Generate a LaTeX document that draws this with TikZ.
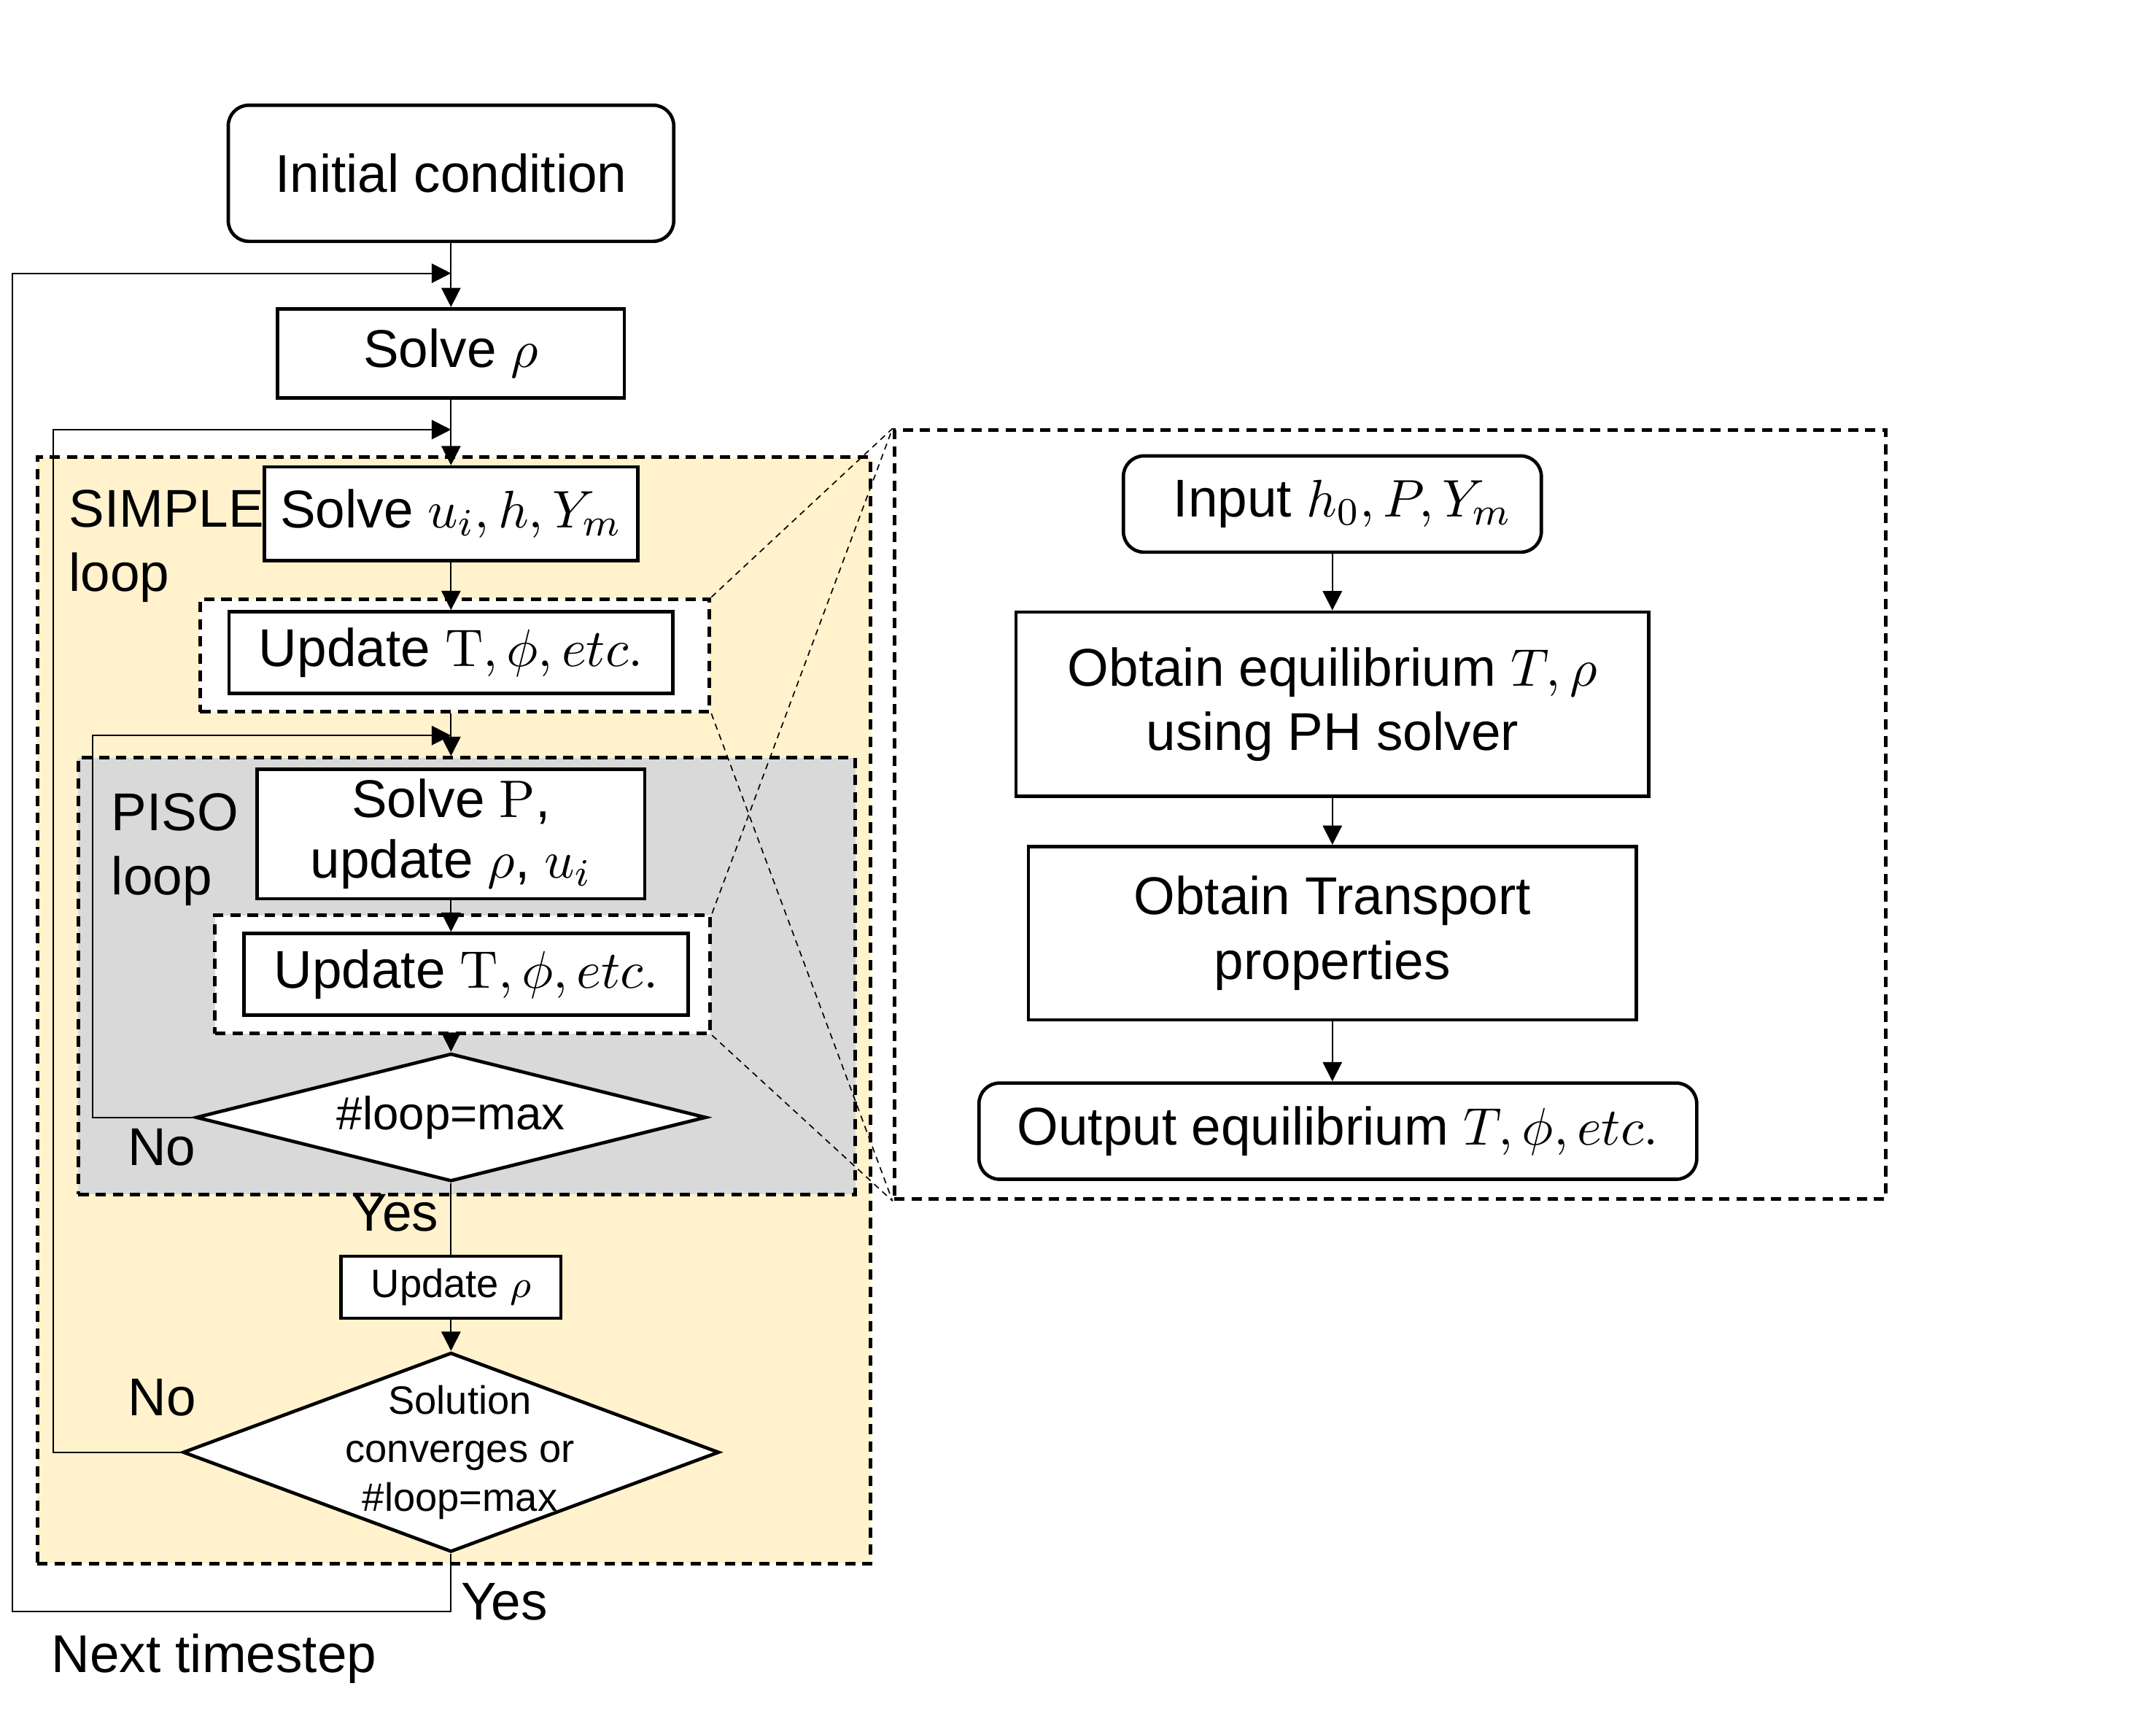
\documentclass[tikz,border=0pt]{standalone}
\usepackage[no-math]{fontspec}
\setmainfont{Liberation Sans}
\usepackage{amsmath}
\usepackage{tikz}
\usetikzlibrary{shapes.geometric, arrows.meta, fit, backgrounds}
\definecolor{simplefill}{HTML}{FFF2CC}
\definecolor{pisofill}{HTML}{D9D9D9}
\tikzstyle{startstop} = [rectangle, rounded corners=1.5mm, text centered, align=center, draw=black, line width=0.7pt, fill=white]
\tikzstyle{process} = [rectangle, text centered, align=center, draw=black, line width=0.7pt, fill=white]
\tikzstyle{decision} = [diamond, text centered, draw=black, line width=0.7pt, fill=white, inner sep=0pt]
\tikzstyle{dashedbox} = [rectangle, draw=black, line width=0.75pt, dash pattern=on 0.75mm off 0.5mm]
\tikzstyle{looptext} = [align=left, anchor=north west, inner sep=0pt]
\tikzstyle{arrow} = [line width=0.3pt, -{Triangle[length=1.4mm, width=1.4mm]}]
\tikzstyle{link} = [line width=0.3pt]
\tikzstyle{zoomline} = [line width=0.25pt, dash pattern=on 0.45mm off 0.35mm]

\begin{document}
\begin{tikzpicture}[x=0.1mm, y=-0.1mm, node distance=12mm, font=\fontsize{11}{13.3}\selectfont]
    \useasboundingbox (0,0) rectangle (1568,1249);

    % solver loop
    \node (init) [startstop, minimum width=32.4mm, minimum height=9.9mm] at (328,126) {Initial condition};
    \node (solverho) [process, minimum width=25.2mm, minimum height=6.5mm, below of=init, yshift=-1.1mm] {Solve $\rho$};
    \node (solveu) [process, minimum width=26.8mm, minimum height=6.8mm, below of=solverho, yshift=0.35mm] {Solve $u_i,h,Y_m$};
    \node (upd1) [process, minimum width=32.3mm, minimum height=5.9mm, below of=solveu, yshift=1.9mm] {Update $\mathrm{T},\phi,etc.$};
    \node (solvep) [process, minimum width=28.2mm, minimum height=9.4mm, inner ysep=0.5pt, font=\fontsize{11}{12.5}\selectfont, below of=upd1, yshift=-1.2mm] {Solve $\mathrm{P}$,\\update $\rho$, $u_i$};
    \node (upd2) [process, minimum width=32.3mm, minimum height=5.8mm, below of=solvep, xshift=1.1mm, yshift=1.8mm] {Update $\mathrm{T},\phi,etc.$};
    \node (dec1) [decision, shape aspect=4, minimum width=37.1mm, minimum height=9.3mm, font=\fontsize{9.6}{11.5}\selectfont, below of=upd2, xshift=-1.1mm, yshift=1.6mm] {\#loop=max};
    \node (updrho) [process, minimum width=16mm, minimum height=4.5mm, inner ysep=0.5pt, font=\fontsize{8.2}{10}\selectfont, below of=dec1, yshift=-0.35mm] {Update $\rho$};
    \node (dec2) [decision, minimum width=39mm, minimum height=14.5mm, below of=updrho,
        label={[align=center, font=\fontsize{8.2}{10}\selectfont, xshift=0.65mm]center:{Solution\\converges or\\\#loop=max}}] {};

    \node (simplelabel) [looptext] at (49.5,355.4) {SIMPLE\\loop};
    \node (pisolabel) [looptext] at (80.4,576) {PISO\\loop};

    % equilibrium model
    \node (input) [startstop, minimum width=30.4mm, minimum height=7mm, right of=solveu, xshift=52.1mm, yshift=0.7mm] {\hspace{1.5mm}Input $h_0,P,Y_m$};
    \node (eq) [process, minimum width=46mm, minimum height=13.4mm, below of=input, yshift=-2.55mm] {Obtain equilibrium $T,\rho$\\using PH solver};
    \node (transport) [process, minimum width=44.2mm, minimum height=12.6mm, below of=eq, yshift=-4.65mm] {Obtain Transport\\properties};
    \node (output) [startstop, minimum width=52.2mm, minimum height=7mm, below of=transport, xshift=0.4mm, yshift=-2.4mm] {Output equilibrium $T,\phi,etc.$};
    \node (zoombig) [dashedbox, minimum width=72.1mm, minimum height=55.9mm] at (1010.9,592.4) {};

    \begin{scope}[on background layer]
        \node (simple) [dashedbox, fill=simplefill, minimum width=60.6mm, minimum height=80.45mm] at (330.15,734.75) {};
        \node (piso) [dashedbox, fill=pisofill, minimum width=56.5mm, minimum height=31.75mm] at (339.5,709.75) {};
        \node (upd1o) [dashedbox, fill=white, fit=(upd1), inner xsep=2.25mm, inner ysep=1mm, xshift=0.28mm, yshift=-0.2mm] {};
        \node (upd2o) [dashedbox, fill=white, fit=(upd2), inner xsep=1.73mm, inner ysep=1.2mm, xshift=-0.25mm] {};
    \end{scope}

    \coordinate (j1) at (328,198.7);
    \coordinate (j2) at (328,312.4);
    \coordinate (j3) at (328,534.8);

    \draw [arrow] (init) -- (solverho);
    \draw [arrow] (solverho) -- (solveu);
    \draw [arrow] (solveu) -- (upd1);
    \draw [arrow] (upd1o.south -| upd1) -- (upd1 |- piso.north);
    \draw [arrow] (solvep) -- (solvep |- upd2.north);
    \draw [arrow] (upd2o.south -| dec1) -- (dec1);
    \draw [link] (dec1) -- node[anchor=north east, pos=0, xshift=0.3mm, yshift=0.4mm] {Yes} (updrho);
    \draw [arrow] (updrho) -- (dec2);
    \draw [arrow] (dec1.west) -- node[anchor=north, pos=0.32, yshift=0.4mm] {No} ++(-74,0) |- (j3);
    \draw [arrow] (dec2.west) -- node[anchor=south, pos=0.15, yshift=1.4mm] {No} ++(-93.1,0) |- (j2);
    \draw [arrow] (dec2.south) -- node[anchor=west, pos=0.83, xshift=-0.5mm] {Yes} ++(0,42.2)
        -- node[anchor=north, pos=0.54, yshift=-0.4mm] {Next timestep} ++(-319.2,0) |- (j1);

    \draw [arrow] (input) -- (eq);
    \draw [arrow] (eq) -- (transport);
    \draw [arrow] (transport) -- (transport |- output.north);

    % zoom lines
    \draw [zoomline] (upd1o.north east) -- (zoombig.north west);
    \draw [zoomline] (upd1o.south east) -- (zoombig.south west);
    \draw [zoomline] (upd2o.north east) -- (zoombig.north west);
    \draw [zoomline] (upd2o.south east) -- (zoombig.south west);
\end{tikzpicture}
\end{document}
